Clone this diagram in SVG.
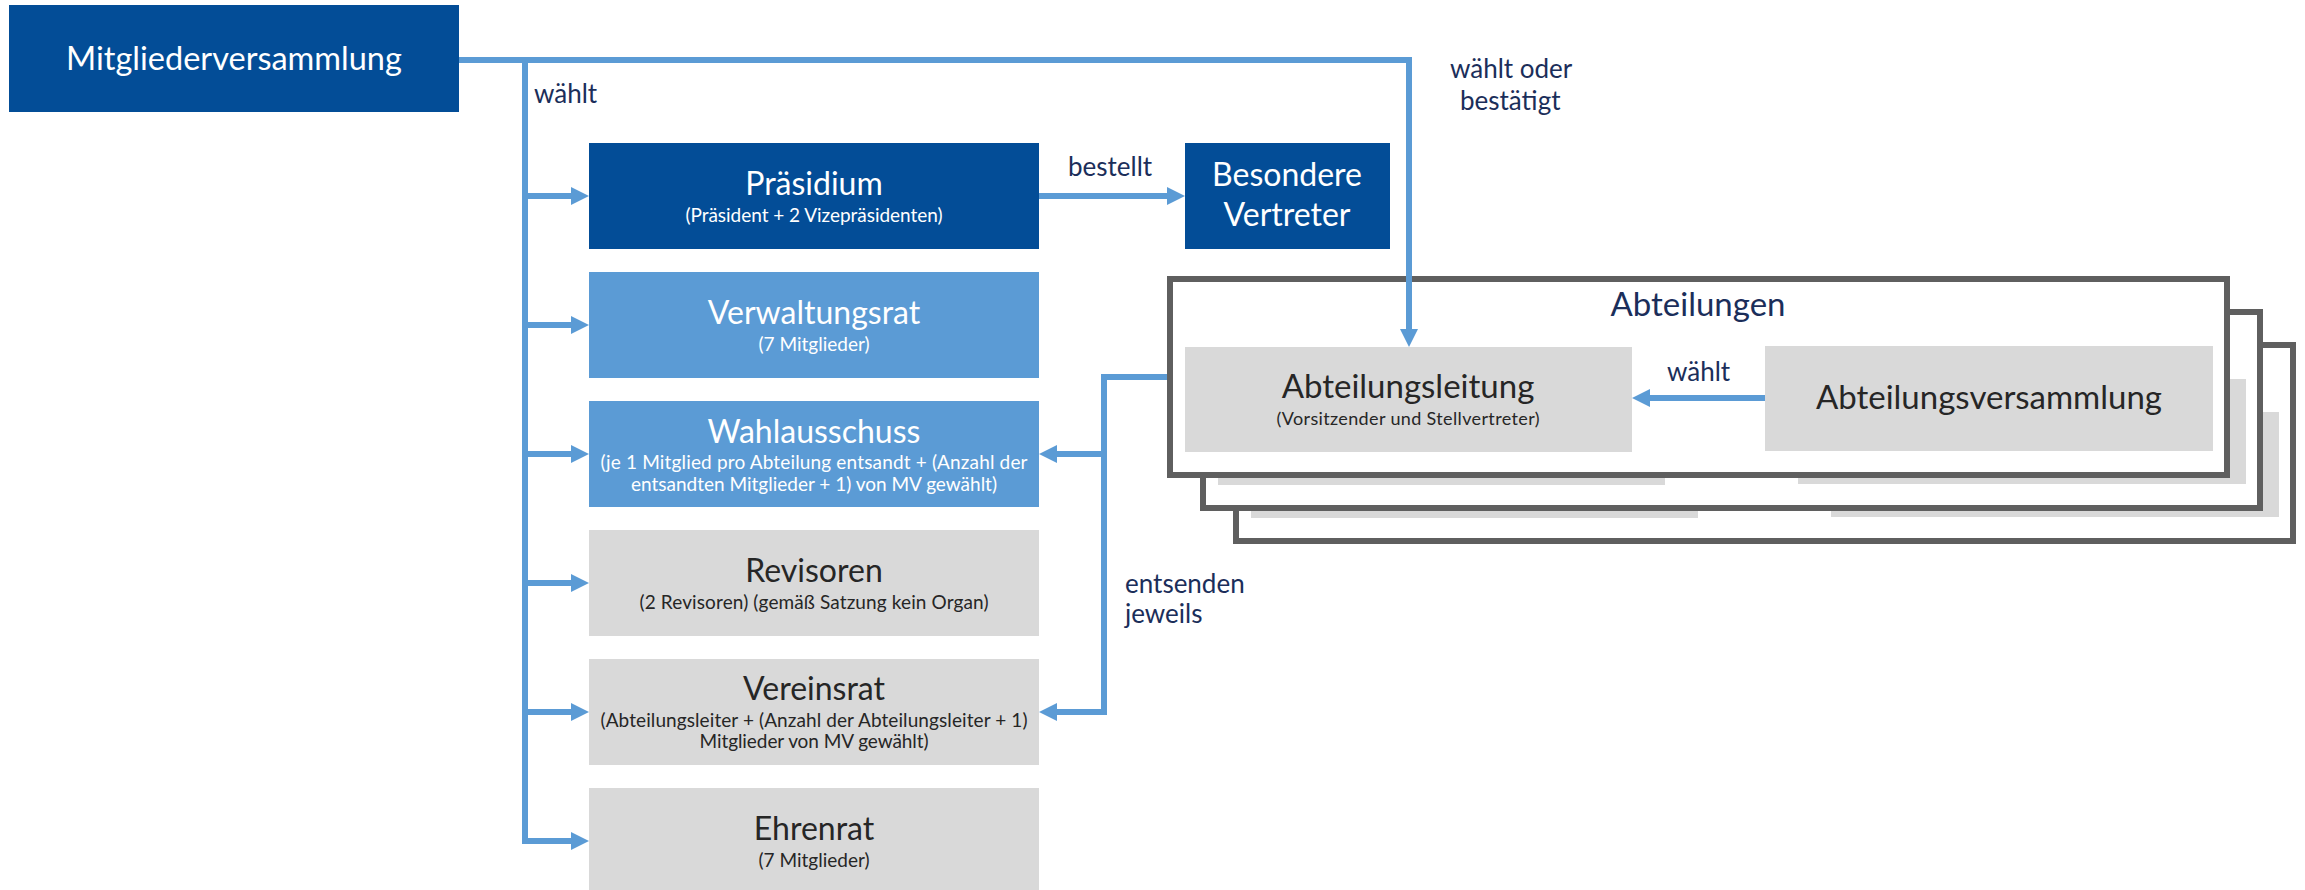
<svg xmlns="http://www.w3.org/2000/svg" width="2305" height="890" viewBox="0 0 2305 890">
<style>
.dark{fill:#034D97}
.light{fill:#5B9BD5}
.gray{fill:#D9D9D9}
.frame{fill:#FFFFFF;stroke:#5F5F5F;stroke-width:6}
text{font-family:Lato,"Liberation Sans",sans-serif;text-anchor:middle}
.w{fill:#FFFFFF}
.k{fill:#262626}
.t{font-size:32px}
.s{font-size:19px}
.lbl{fill:#1B2E5A;font-size:26px;text-anchor:start}
.con{fill:none;stroke:#5B9BD5;stroke-width:6}
</style>
<defs>
<marker id="ah" markerUnits="userSpaceOnUse" markerWidth="18" markerHeight="18" refX="8" refY="9" orient="auto">
<path d="M0,0 L18,9 L0,18 z" fill="#5B9BD5"/>
</marker>
</defs>

<g id="mitgliederversammlung">
<rect class="dark" x="9" y="5" width="450" height="107"/>
<text class="w" x="234" y="70" font-size="32.5">Mitgliederversammlung</text>
</g>

<g id="praesidium">
<rect class="dark" x="589" y="143" width="450" height="106"/>
<text class="w t" x="814" y="195">Präsidium</text>
<text class="w s" x="814" y="222" textLength="257" lengthAdjust="spacing">(Präsident + 2 Vizepräsidenten)</text>
</g>

<g id="besondere-vertreter">
<rect class="dark" x="1185" y="143" width="205" height="106"/>
<text class="w t" x="1287" y="186">Besondere</text>
<text class="w t" x="1287" y="226">Vertreter</text>
</g>

<g id="verwaltungsrat">
<rect class="light" x="589" y="272" width="450" height="106"/>
<text class="w t" x="814" y="324">Verwaltungsrat</text>
<text class="w s" x="814" y="351">(7 Mitglieder)</text>
</g>

<g id="wahlausschuss">
<rect class="light" x="589" y="401" width="450" height="106"/>
<text class="w t" x="814" y="443">Wahlausschuss</text>
<text class="w s" x="814" y="469" textLength="427" lengthAdjust="spacing">(je 1 Mitglied pro Abteilung entsandt + (Anzahl der</text>
<text class="w s" x="814" y="491" textLength="366" lengthAdjust="spacing">entsandten Mitglieder + 1) von MV gewählt)</text>
</g>

<g id="revisoren">
<rect class="gray" x="589" y="530" width="450" height="106"/>
<text class="k t" x="814" y="582">Revisoren</text>
<text class="k s" x="814" y="609" textLength="349" lengthAdjust="spacing">(2 Revisoren) (gemäß Satzung kein Organ)</text>
</g>

<g id="vereinsrat">
<rect class="gray" x="589" y="659" width="450" height="106"/>
<text class="k t" x="814" y="700">Vereinsrat</text>
<text class="k s" x="814" y="727" textLength="427" lengthAdjust="spacing">(Abteilungsleiter + (Anzahl der Abteilungsleiter + 1)</text>
<text class="k s" x="814" y="748" textLength="229" lengthAdjust="spacing">Mitglieder von MV gewählt)</text>
</g>

<g id="ehrenrat">
<rect class="gray" x="589" y="788" width="450" height="106"/>
<text class="k t" x="814" y="840">Ehrenrat</text>
<text class="k s" x="814" y="867">(7 Mitglieder)</text>
</g>

<g id="abteilungen-stack-3">
<rect class="frame" x="1236" y="345" width="1057" height="196"/>
<rect class="gray" x="1251" y="413" width="447" height="105"/>
<rect class="gray" x="1831" y="412" width="448" height="105"/>
</g>
<g id="abteilungen-stack-2">
<rect class="frame" x="1203" y="312" width="1057" height="196"/>
<rect class="gray" x="1218" y="380" width="447" height="105"/>
<rect class="gray" x="1798" y="379" width="448" height="105"/>
</g>

<g id="abteilungen">
<rect class="frame" x="1170" y="279" width="1057" height="196"/>
<text x="1698" y="316" font-size="33" fill="#1B2E5A">Abteilungen</text>
</g>

<g id="abteilungsleitung">
<rect class="gray" x="1185" y="347" width="447" height="105"/>
<text class="k" x="1408" y="398" font-size="33">Abteilungsleitung</text>
<text class="k" x="1408" y="425" font-size="18" textLength="263" lengthAdjust="spacing">(Vorsitzender und Stellvertreter)</text>
</g>

<g id="abteilungsversammlung">
<rect class="gray" x="1765" y="346" width="448" height="105"/>
<text class="k" x="1989" y="409" font-size="33">Abteilungsversammlung</text>
</g>

<g id="connectors">
<path class="con" d="M459,60 H1409 V337" marker-end="url(#ah)"/>
<path class="con" d="M525,60 V842"/>
<path class="con" d="M522,196 H579" marker-end="url(#ah)"/>
<path class="con" d="M522,325 H579" marker-end="url(#ah)"/>
<path class="con" d="M522,454 H579" marker-end="url(#ah)"/>
<path class="con" d="M522,583 H579" marker-end="url(#ah)"/>
<path class="con" d="M522,712 H579" marker-end="url(#ah)"/>
<path class="con" d="M522,841 H579" marker-end="url(#ah)"/>
<path class="con" d="M1039,196 H1175" marker-end="url(#ah)"/>
<path class="con" d="M1167,377 H1104 V712 H1049" marker-end="url(#ah)"/>
<path class="con" d="M1107,454 H1049" marker-end="url(#ah)"/>
<path class="con" d="M1765,398 H1642" marker-end="url(#ah)"/>
<text class="lbl" x="534" y="103">wählt</text>
<text class="lbl" x="1068" y="176">bestellt</text>
<text class="lbl" x="1450" y="78">wählt oder</text>
<text class="lbl" x="1460" y="110">bestätigt</text>
<text class="lbl" x="1667" y="381">wählt</text>
<text class="lbl" x="1125" y="593">entsenden</text>
<text class="lbl" x="1125" y="623">jeweils</text>
</g>
</svg>
